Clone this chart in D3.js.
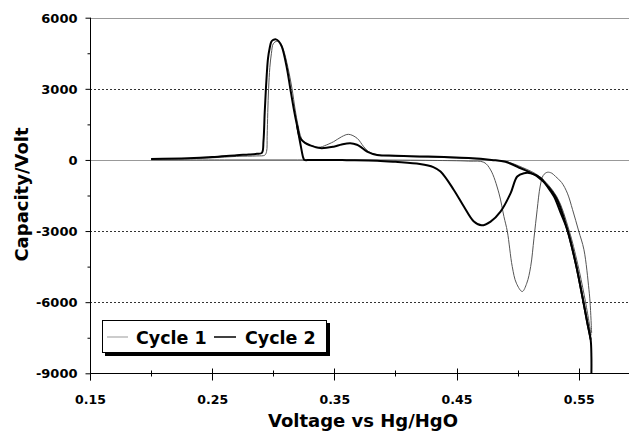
<!DOCTYPE html>
<html><head><meta charset="utf-8">
<script src="https://cdn.jsdelivr.net/npm/d3@7"></script>
<style>
body{margin:0;background:#fff}
svg text{font-family:"DejaVu Sans",sans-serif;font-weight:bold;fill:#000}
</style>
</head><body>
<svg id="chart" width="629" height="431"></svg>
<script>
// ---- data ----
const xTicks = [0.15, 0.25, 0.35, 0.45, 0.55];
const xTickLabels = ["0.15", "0.25", "0.35", "0.45", "0.55"];
const xMinorTicks = [0.20, 0.30, 0.40, 0.50];
const yTicks = [-9000, -6000, -3000, 0, 3000, 6000];
const yTickLabels = ["-9000", "-6000", "-3000", "0", "3000", "6000"];
const yMinorTicks = [-7500, -4500, -1500, 1500, 4500];
const yGridDotted = [3000, -3000, -6000];
const seriesNames = ["Cycle 1", "Cycle 2"];

// Cycle 1 (thin grey) – charge branch
const c1ChargeV = [0.200,0.260,0.320,0.380,0.430,0.460,0.4724,0.4779,0.4847,0.4888,0.4916,0.4956,0.4990,0.5038,0.5075,0.5107,0.5134,0.5160,0.5185,0.5210,0.5243,0.5280,0.5311,0.5360,0.5407,0.5450,0.5500,0.5543,0.5584,0.5593,0.5606];
const c1ChargeCap = [0,0,0,0,-20,-50,-100,-420,-1400,-2390,-3020,-4495,-5200,-5550,-5200,-4495,-3300,-2100,-1100,-650,-520,-560,-700,-950,-1400,-2100,-3000,-3790,-5475,-6000,-7300];
// Cycle 1 – discharge branch
const c1DischV = [0.5602,0.5580,0.5545,0.5490,0.5420,0.5320,0.5180,0.5040,0.4900,0.4780,0.4600,0.4400,0.4200,0.4000,0.3850,0.3780,0.3740,0.3686,0.3617,0.3560,0.3494,0.3420,0.3385,0.3300,0.3260,0.3230,0.3202,0.3180,0.3153,0.3120,0.3080,0.3055,0.3030,0.3000,0.2985,0.2972,0.2962,0.2955,0.2950,0.2945,0.2930,0.2866,0.2700,0.2500,0.2300,0.2000];
const c1DischCap = [-7400,-6700,-5700,-4350,-2950,-1545,-700,-320,-60,0,60,100,130,160,220,350,560,915,1080,980,770,600,540,620,720,920,1475,2100,3020,3900,4700,4950,5010,4900,4500,3900,3020,2000,1000,350,200,170,150,90,50,30];

// Cycle 2 (thick black) – charge branch
const c2ChargeV = [0.3194,0.3225,0.3245,0.3255,0.3300,0.3400,0.3600,0.3850,0.4000,0.4200,0.4310,0.4369,0.4478,0.4560,0.4642,0.4705,0.4779,0.4860,0.4943,0.4997,0.5052,0.5107,0.5189,0.5240,0.5298,0.5350,0.5407,0.5475,0.5530,0.5571,0.5598,0.5604,0.5604];
const c2ChargeCap = [1475,600,100,0,0,0,-10,-30,-80,-170,-300,-490,-1265,-1965,-2600,-2760,-2600,-2180,-1400,-700,-560,-560,-760,-1100,-1545,-2200,-2950,-4350,-5760,-6880,-7580,-8300,-9000];
// Cycle 2 – discharge branch
const c2DischV = [0.5598,0.5571,0.5530,0.5475,0.5407,0.5310,0.5161,0.5025,0.4900,0.4787,0.4600,0.4400,0.4200,0.4000,0.3850,0.3768,0.3713,0.3685,0.3630,0.3560,0.3494,0.3385,0.3300,0.3260,0.3221,0.3194,0.3167,0.3139,0.3112,0.3070,0.3045,0.3022,0.3000,0.2984,0.2970,0.2957,0.2948,0.2940,0.2930,0.2920,0.2907,0.2866,0.2800,0.2700,0.2500,0.2300,0.2000];
const c2DischCap = [-7580,-6880,-5760,-4350,-2950,-1545,-700,-350,-80,0,80,120,150,180,210,350,560,640,700,650,560,500,620,720,915,1475,2180,3020,3860,4775,5000,5085,5060,4985,4700,4285,3700,3020,2000,800,300,260,230,200,120,70,40];

// ---- layout ----
const svg = d3.select("#chart");
const pL = 90, pR = 629, pT = 17.7, pB = 373.3;

const x = d3.scaleLinear().domain([0.15, 0.15 + (pR - pL) / 1221.75]).range([pL, pR]);
const y = d3.scaleLinear().domain([-9000, 6000]).range([pB, pT]);

// grid lines
svg.append("g").selectAll("line").data(yGridDotted).join("line")
  .attr("x1", pL).attr("x2", pR)
  .attr("y1", d => Math.round(y(d)) + 0.5).attr("y2", d => Math.round(y(d)) + 0.5)
  .attr("stroke", "#333").attr("stroke-width", 1).attr("stroke-dasharray", "2,2");
// zero line and top line
svg.append("g").selectAll("line").data([0, 6000]).join("line")
  .attr("x1", pL).attr("x2", pR)
  .attr("y1", d => Math.round(y(d)) + 0.5).attr("y2", d => Math.round(y(d)) + 0.5)
  .attr("stroke", "#999").attr("stroke-width", 1);

// curves
const line = d3.line().x(d => x(d[0])).y(d => y(d[1])).curve(d3.curveCatmullRom.alpha(0.5));
const zip = (a, b) => a.map((v, i) => [v, b[i]]);
svg.append("clipPath").attr("id", "pc").append("rect")
  .attr("x", pL).attr("y", 0).attr("width", pR - pL).attr("height", pB + 0.5);
const plot = svg.append("g").attr("clip-path", "url(#pc)");

const c1 = [zip(c1ChargeV, c1ChargeCap), zip(c1DischV, c1DischCap)];
const c2 = [zip(c2ChargeV, c2ChargeCap), zip(c2DischV, c2DischCap)];
plot.selectAll("path.c1").data(c1).join("path").attr("class", "c1")
  .attr("d", line).attr("fill", "none").attr("stroke", "#555").attr("stroke-width", 1);
plot.selectAll("path.c2").data(c2).join("path").attr("class", "c2")
  .attr("d", line).attr("fill", "none").attr("stroke", "#000").attr("stroke-width", 2)
  .attr("stroke-linejoin", "round");

// y axis
const yAxis = svg.append("g").attr("transform", `translate(${pL + 0.5},0)`)
  .call(d3.axisLeft(y).tickValues(yTicks).tickSize(5).tickPadding(8)
    .tickFormat((d, i) => yTickLabels[i]));
yAxis.select(".domain").attr("stroke", "#000").attr("d", `M0,${pT}V${pB + 7}`);
yAxis.selectAll(".tick line").attr("stroke", "#000");
yAxis.selectAll("text").attr("font-size", 13).attr("dy", "0.36em")
  .style("font-family", "'DejaVu Sans',sans-serif").style("font-weight", "bold");
svg.append("g").attr("transform", `translate(${pL + 0.5},0)`)
  .call(d3.axisLeft(y).tickValues(yMinorTicks).tickSize(3).tickFormat(""))
  .call(g => g.select(".domain").remove())
  .selectAll("line").attr("stroke", "#000");

// x axis
const xAxis = svg.append("g").attr("transform", `translate(0,${Math.round(pB) + 0.5})`)
  .call(d3.axisBottom(x).tickValues(xTicks).tickSize(0).tickPadding(0)
    .tickFormat((d, i) => xTickLabels[i]));
xAxis.select(".domain").attr("stroke", "#000").attr("d", `M${pL},0H${pR}`);
xAxis.selectAll("text").attr("font-size", 12.5).attr("y", 30).attr("dy", 0)
  .style("font-family", "'DejaVu Sans',sans-serif").style("font-weight", "bold");
xAxis.selectAll(".tickmaj").data(xTicks).join("line").attr("class", "tickmaj")
  .attr("x1", d => Math.round(x(d)) + 0.5).attr("x2", d => Math.round(x(d)) + 0.5)
  .attr("y1", -5).attr("y2", 7).attr("stroke", "#000");
xAxis.selectAll(".tickmin").data(xMinorTicks).join("line").attr("class", "tickmin")
  .attr("x1", d => Math.round(x(d)) + 0.5).attr("x2", d => Math.round(x(d)) + 0.5)
  .attr("y1", -3).attr("y2", 3).attr("stroke", "#000");

// axis titles
svg.append("text").attr("x", 363).attr("y", 427).attr("text-anchor", "middle")
  .attr("font-size", 18).text("Voltage vs Hg/HgO");
svg.append("text").attr("transform", "translate(28,194.5) rotate(-90)")
  .attr("text-anchor", "middle").attr("font-size", 18).text("Capacity/Volt");

// legend
const lg = svg.append("g");
lg.append("rect").attr("x", 105).attr("y", 323).attr("width", 225).attr("height", 33).attr("fill", "#000");
lg.append("rect").attr("x", 102.5).attr("y", 320.5).attr("width", 224).attr("height", 32)
  .attr("fill", "#fff").attr("stroke", "#000").attr("stroke-width", 1);
const legItems = [
  {name: seriesNames[0], x0: 107, x1: 128, tx: 136, stroke: "#999", sw: 1},
  {name: seriesNames[1], x0: 214, x1: 236, tx: 245, stroke: "#000", sw: 1.5}
];
legItems.forEach(d => {
  lg.append("line").attr("x1", d.x0).attr("x2", d.x1).attr("y1", 337).attr("y2", 337)
    .attr("stroke", d.stroke).attr("stroke-width", d.sw);
  lg.append("text").attr("x", d.tx).attr("y", 343.5).attr("font-size", 17.5).text(d.name);
});
</script>
</body></html>
